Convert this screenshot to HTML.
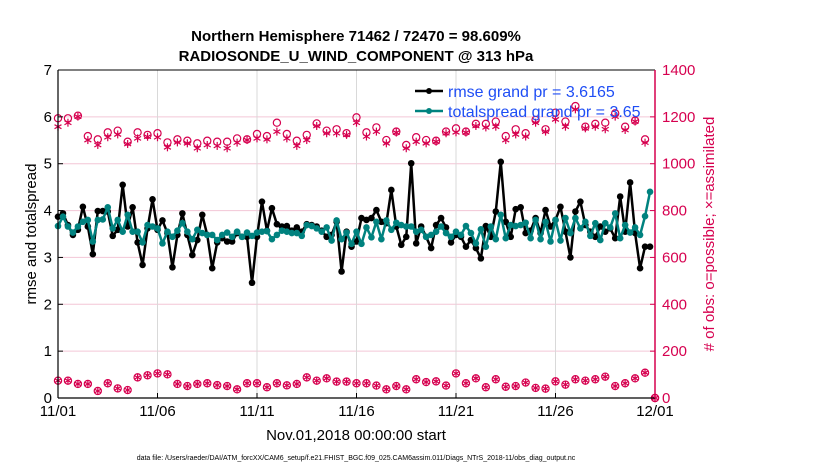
<!DOCTYPE html>
<html><head><meta charset="utf-8"><style>
body{margin:0;background:#fff;}
svg{display:block;font-family:"Liberation Sans",sans-serif;}
</style></head><body>
<svg id="chart" width="830" height="470" viewBox="0 0 830 470" xmlns="http://www.w3.org/2000/svg">
<rect x="0" y="0" width="830" height="470" fill="#fff"/>
<text x="356" y="41" font-size="15" font-weight="bold" text-anchor="middle">Northern Hemisphere 71462 / 72470 = 98.609%</text>
<text x="356" y="61" font-size="15" font-weight="bold" text-anchor="middle">RADIOSONDE_U_WIND_COMPONENT @ 313 hPa</text>
<g id="grid"></g>
<g id="obs"></g>
<g id="series"></g>
<g id="axes"></g>
<g>
<line x1="415" y1="91" x2="443" y2="91" stroke="#000" stroke-width="2.5"/><circle cx="429" cy="91" r="3" fill="#000"/>
<text x="448" y="97" font-size="16" fill="#1f4ef5">rmse grand pr = 3.6165</text>
<line x1="415" y1="111" x2="443" y2="111" stroke="#00827f" stroke-width="2.5"/><circle cx="429" cy="111" r="3" fill="#00827f"/>
<text x="448" y="117" font-size="16" fill="#1f4ef5">totalspread grand pr = 3.65</text>
</g>
<text transform="translate(36,234) rotate(-90)" font-size="15" text-anchor="middle">rmse and totalspread</text>
<text transform="translate(714,234) rotate(-90)" font-size="15" text-anchor="middle" fill="#d6004f"># of obs: o=possible; ×=assimilated</text>
<text x="356" y="440" font-size="15" text-anchor="middle">Nov.01,2018 00:00:00 start</text>
<text x="356" y="460" font-size="7" text-anchor="middle">data file: /Users/raeder/DAI/ATM_forcXX/CAM6_setup/f.e21.FHIST_BGC.f09_025.CAM6assim.011/Diags_NTrS_2018-11/obs_diag_output.nc</text>
</svg>
<script>
const rmse=[3.87,3.94,3.69,3.48,3.59,4.08,3.66,3.07,3.99,3.99,3.98,3.46,3.59,4.55,3.66,4.07,3.32,2.84,3.62,4.24,3.59,3.79,3.52,2.79,3.48,3.94,3.48,3.05,3.37,3.91,3.48,2.77,3.32,3.41,3.34,3.34,3.52,3.44,3.44,2.46,
3.44,4.19,3.57,4.05,3.71,3.66,3.67,3.57,3.64,3.55,3.71,3.69,3.66,3.57,3.44,3.48,3.76,2.70,3.55,3.23,3.34,3.84,3.80,3.84,4.01,3.76,3.73,4.44,3.66,3.27,3.44,5.01,3.30,3.66,3.44,3.20,3.69,3.84,3.64,3.32,
3.48,3.44,3.23,3.37,3.20,2.98,3.67,3.44,3.98,5.04,3.76,3.44,4.03,4.07,3.52,3.57,3.84,3.52,4.01,3.66,3.80,4.08,3.55,3.00,3.98,4.19,3.69,3.55,3.44,3.66,3.55,3.62,3.41,4.30,3.55,4.60,3.52,2.77,3.23,3.23];
const spread=[3.67,3.87,3.66,3.53,3.66,3.76,3.80,3.34,3.80,3.81,4.07,3.62,3.80,3.55,3.91,3.55,3.55,3.32,3.69,3.66,3.62,3.30,3.55,3.44,3.57,3.73,3.55,3.39,3.59,3.52,3.48,3.48,3.37,3.48,3.53,3.44,3.55,3.44,3.53,3.46,
3.53,3.55,3.56,3.39,3.48,3.57,3.55,3.52,3.52,3.46,3.69,3.67,3.62,3.55,3.64,3.36,3.79,3.39,3.53,3.29,3.55,3.29,3.64,3.43,3.76,3.39,3.79,3.59,3.74,3.69,3.66,3.66,3.55,3.59,3.44,3.48,3.55,3.66,3.52,3.44,
3.55,3.48,3.67,3.52,3.30,3.60,3.23,3.66,3.39,3.91,3.41,3.69,3.67,3.69,3.74,3.41,3.80,3.39,3.76,3.34,3.80,3.36,3.84,3.52,3.84,3.62,3.76,3.46,3.73,3.37,3.73,3.64,3.94,3.41,3.69,3.53,3.64,3.48,3.88,4.40];
const upperPossible=[1194,1194,1205,1118,1104,1134,1141,1094,1134,1123,1130,1091,1104,1098,1087,1098,1094,1094,1108,1104,1127,
1118,1175,1127,1098,1123,1172,1141,1147,1130,1198,1134,1155,1101,1137,1080,1113,1101,1098,1137,1151,
1137,1170,1170,1180,1118,1147,1130,1187,1147,1218,1180,1246,1158,1170,1175,1215,1158,1184,1104,0];
const upperAssim=[1158,1175,1201,1101,1080,1113,1125,1084,1108,1115,1113,1070,1091,1087,1066,1080,1076,1066,1090,1101,1108,
1104,1137,1108,1076,1101,1161,1130,1130,1123,1175,1116,1137,1087,1133,1066,1094,1087,1094,1130,1134,
1133,1161,1155,1158,1101,1125,1116,1175,1137,1189,1158,1232,1151,1158,1147,1201,1144,1180,1090,0];
const lowerPossible=[74,74,60,60,30,63,41,34,88,97,105,101,60,51,60,63,55,51,37,63,63,46,63,54,60,88,74,84,70,70,
63,63,53,37,51,37,80,68,71,53,105,63,84,46,80,48,51,66,43,40,71,57,80,74,80,91,51,63,84,108,0];
const lowerAssim=[74,74,60,60,30,63,41,34,88,97,105,101,60,51,60,63,55,51,37,63,63,46,63,54,60,88,74,84,70,70,
63,63,53,37,51,37,80,68,71,53,105,63,84,46,80,48,51,66,43,40,71,57,80,74,80,91,51,63,84,108,0];
const xTickLabels=["11/01","11/06","11/11","11/16","11/21","11/26","12/01"];
const yLeftTicks=[0,1,2,3,4,5,6,7];
const yRightTicks=[0,200,400,600,800,1000,1200,1400];

const NS="http://www.w3.org/2000/svg";
const X0=58,X1=655,Y0=398,Y1=70;
const xDay=d=>X0+(X1-X0)*d/30;
const yL=v=>Y0-(Y0-Y1)*v/7;
const yR=v=>Y0-(Y0-Y1)*v/1400;
function mk(tag,attrs,parent){const e=document.createElementNS(NS,tag);for(const k in attrs)e.setAttribute(k,attrs[k]);parent.appendChild(e);return e;}
const grid=document.getElementById('grid'),axes=document.getElementById('axes'),obs=document.getElementById('obs'),ser=document.getElementById('series');
yLeftTicks.forEach(v=>{if(v>0&&v<7){const l=mk('line',{x1:X0,x2:X1,y1:yL(v),y2:yL(v),stroke:'#f3c6d6','stroke-width':1},grid);

}});
xTickLabels.forEach((t,i)=>{const x=xDay(i*5);if(i>0&&i<6){const l=mk('line',{x1:x,x2:x,y1:Y1,y2:Y0,stroke:'#d9d9d9','stroke-width':1},grid);

}
mk('line',{x1:x,x2:x,y1:Y0,y2:Y0-5,stroke:'#000'},axes);
const tx=mk('text',{x:x,y:416,'font-size':15,'text-anchor':'middle'},axes);tx.textContent=t;

});
yLeftTicks.forEach(v=>{mk('line',{x1:X0,x2:X0+5,y1:yL(v),y2:yL(v),stroke:'#000'},axes);
const tx=mk('text',{x:52,y:yL(v)+5,'font-size':15,'text-anchor':'end'},axes);tx.textContent=v;

});
yRightTicks.forEach(v=>{mk('line',{x1:X1,x2:X1-5,y1:yR(v),y2:yR(v),stroke:'#d6004f'},axes);
const tx=mk('text',{x:662,y:yR(v)+5,'font-size':15,fill:'#d6004f'},axes);tx.textContent=v;

});
mk('line',{x1:X0,x2:X0,y1:Y1,y2:Y0,stroke:'#000','stroke-width':1.2},axes);
mk('line',{x1:X0,x2:X1,y1:Y0,y2:Y0,stroke:'#000','stroke-width':1.2},axes);
mk('line',{x1:X0,x2:X1,y1:Y1,y2:Y1,stroke:'#000','stroke-width':1},axes);
mk('line',{x1:X1,x2:X1,y1:Y1,y2:Y0,stroke:'#d6004f','stroke-width':1.5},axes);

function drawObs(arr,kind,name){arr.forEach((c,j)=>{const x=xDay(j*0.5),y=yR(c);const g=mk('g',{},obs);


if(kind==='o'){mk('circle',{cx:x,cy:y,r:3.6,fill:'none',stroke:'#d6004f','stroke-width':1.2},g);}
else{for(let a=0;a<3;a++){const an=a*Math.PI/3+Math.PI/2;mk('line',{x1:x-4*Math.cos(an),y1:y-4*Math.sin(an),x2:x+4*Math.cos(an),y2:y+4*Math.sin(an),stroke:'#d6004f','stroke-width':1.2},g);}}});}
drawObs(upperPossible,'o','obs-possible-upper');
drawObs(upperAssim,'x','obs-assimilated-upper');
drawObs(lowerPossible,'o','obs-possible-lower');
drawObs(lowerAssim,'x','obs-assimilated-lower');

function drawLine(arr,col,name){const pts=arr.map((v,i)=>xDay(i*0.25)+','+yL(v)).join(' ');
const p=mk('polyline',{points:pts,fill:'none',stroke:col,'stroke-width':2.5,'stroke-linejoin':'round'},ser);


arr.forEach((v,i)=>{const c=mk('circle',{cx:xDay(i*0.25),cy:yL(v),r:3.3,fill:col},ser);

});}
drawLine(rmse,'#000','rmse');
drawLine(spread,'#00827f','totalspread');
</script>
</body></html>
